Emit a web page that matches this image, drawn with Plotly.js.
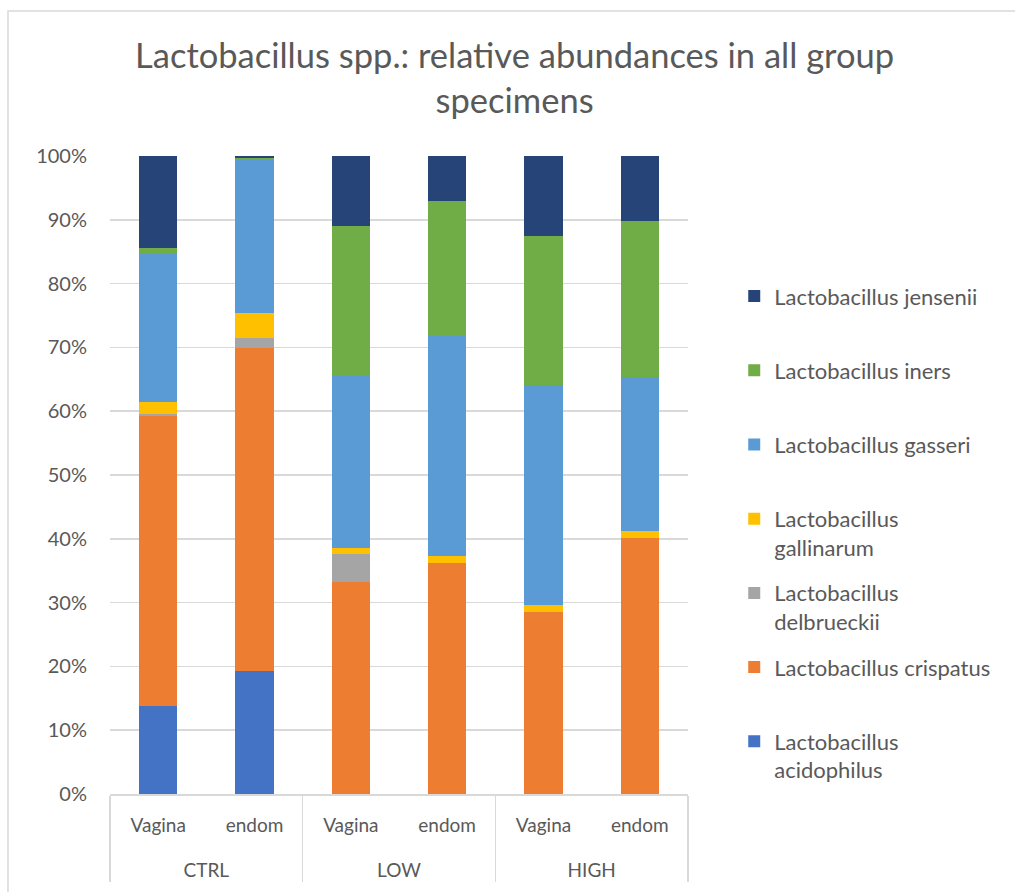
<!DOCTYPE html>
<html>
<head>
<meta charset="utf-8">
<script src="https://cdn.plot.ly/plotly-3.0.1.min.js"></script>
<style>
  html, body { margin: 0; padding: 0; background: #ffffff; }
  #chart { width: 1015px; height: 892px; }
</style>
</head>
<body>
<div id="chart"></div>
<script>
// Group (outer) and specimen (inner) labels for the multicategory axis
const groups = ['CTRL', 'CTRL', 'LOW', 'LOW', 'HIGH', 'HIGH'];
const specimens = ['Vagina', 'endom', 'Vagina', 'endom', 'Vagina', 'endom'];

// Relative abundances (%) per species, stacked bottom to top
const acidophilus = [13.85, 19.35, 0, 0, 0, 0];
const crispatus   = [45.35, 50.6, 33.2, 36.2, 28.55, 40.07];
const delbrueckii = [0.3, 1.45, 4.35, 0, 0, 0];
const gallinarum  = [2.0, 3.95, 1.05, 1.1, 1.05, 1.1];
const gasseri     = [23.1, 24.25, 26.9, 34.5, 34.5, 24.2];
const iners       = [1.0, 0.1, 23.5, 21.1, 23.4, 24.4];
const jensenii    = [14.4, 0.3, 11.0, 7.1, 12.5, 10.25];

// Legend names; every entry takes two lines so the entries are evenly spaced
const seriesNames = [
  'Lactobacillus<br>acidophilus',
  'Lactobacillus crispatus<br>&nbsp;',
  'Lactobacillus<br>delbrueckii',
  'Lactobacillus<br>gallinarum',
  'Lactobacillus gasseri<br>&nbsp;',
  'Lactobacillus iners<br>&nbsp;',
  'Lactobacillus jensenii<br>&nbsp;'
];
const seriesValues = [acidophilus, crispatus, delbrueckii, gallinarum, gasseri, iners, jensenii];
const seriesColors = ['#4472C4', '#ED7D31', '#A5A5A5', '#FFC000', '#5B9BD5', '#70AD47', '#264478'];

const textColor = '#595959';
const gridColor = '#D9D9D9';
const fontFamily = 'Lato, "Open Sans", sans-serif';

// Specimen labels get a taller empty second line to open room above the group row
const specimenLabels = specimens.map(s => s + '<br><span style="font-size:48px">&nbsp;</span>');

const traces = seriesValues.map((vals, i) => ({
  type: 'bar',
  x: [groups, specimenLabels],
  y: vals,
  name: seriesNames[i],
  legendgroup: 'g' + i,
  legendrank: 100 - i,
  marker: { color: seriesColors[i], line: { width: 0 } },
  width: 0.4,
  hoverinfo: 'name+y'
}));

const layout = {
  width: 1015,
  height: 892,
  margin: { l: 110, r: 327, t: 156, b: 98 },
  paper_bgcolor: '#ffffff',
  plot_bgcolor: '#ffffff',
  barmode: 'stack',
  font: { family: fontFamily, color: textColor, size: 19 },
  title: {
    text: 'Lactobacillus spp.: relative abundances in all group<br>specimens',
    font: { family: fontFamily, size: 34.5, color: textColor },
    x: 0.507,
    xanchor: 'center',
    y: 0.924,
    yanchor: 'middle'
  },
  xaxis: {
    type: 'multicategory',
    showline: true,
    linecolor: gridColor,
    linewidth: 1.5,
    ticks: '',
    ticklabelstandoff: 14,
    showdividers: true,
    dividercolor: gridColor,
    dividerwidth: 1.5,
    tickfont: { family: fontFamily, size: 19, color: textColor },
    fixedrange: true
  },
  yaxis: {
    range: [0, 100],
    dtick: 10,
    ticksuffix: '%',
    showgrid: true,
    gridcolor: gridColor,
    gridwidth: 1.5,
    zeroline: false,
    showline: false,
    ticklabelstandoff: 22,
    tickfont: { family: fontFamily, size: 20, color: textColor },
    fixedrange: true
  },
  legend: {
    x: 1.08,
    xanchor: 'left',
    y: 0.813,
    yanchor: 'top',
    traceorder: 'grouped',
    tracegroupgap: 14,
    valign: 'top',
    font: { family: fontFamily, size: 22, color: textColor },
    bgcolor: 'rgba(0,0,0,0)'
  },
  shapes: [{
    type: 'rect',
    xref: 'paper', yref: 'paper',
    x0: -0.1765, x1: 1.58,
    y0: -0.16, y1: 1.2274,
    line: { color: gridColor, width: 1.5 },
    fillcolor: 'rgba(0,0,0,0)',
    layer: 'below'
  }],
  showlegend: true
};

Plotly.newPlot('chart', traces, layout, { displayModeBar: false, staticPlot: true });
</script>
</body>
</html>
